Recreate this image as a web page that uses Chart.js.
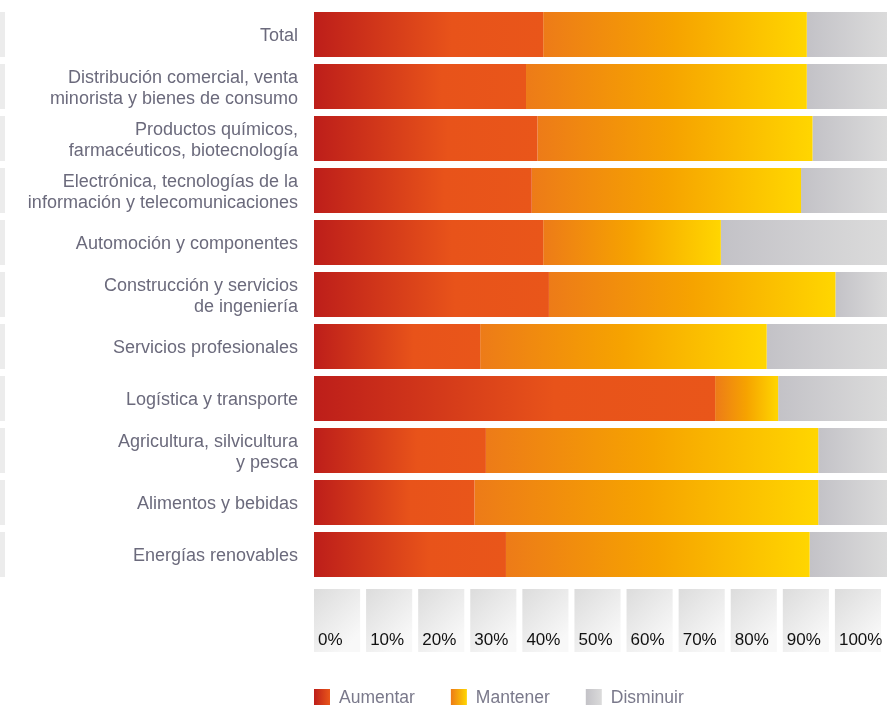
<!DOCTYPE html>
<html>
<head>
<meta charset="utf-8">
<script src="https://cdn.jsdelivr.net/npm/chart.js@4"></script>
<style>
  body { margin: 0; background: #fff; }
  #wrap { width: 890px; height: 708px; }
</style>
</head>
<body>
<div id="wrap"><canvas id="myChart" width="890" height="708"></canvas></div>
<script>
const categories = [
  'Total',
  ['Distribución comercial, venta', 'minorista y bienes de consumo'],
  ['Productos químicos,', 'farmacéuticos, biotecnología'],
  ['Electrónica, tecnologías de la', 'información y telecomunicaciones'],
  'Automoción y componentes',
  ['Construcción y servicios', 'de ingeniería'],
  'Servicios profesionales',
  'Logística y transporte',
  ['Agricultura, silvicultura', 'y pesca'],
  'Alimentos y bebidas',
  'Energías renovables'
];
const aumentar  = [40, 37, 39, 38, 40, 41, 29, 70, 30, 28, 33.5];
const mantener  = [46, 49, 48, 47, 31, 50, 50, 11, 58, 60, 53];
const disminuir = [14, 14, 13, 15, 29, 9, 21, 19, 12, 12, 13.5];
const tickLabels = ['0%', '10%', '20%', '30%', '40%', '50%', '60%', '70%', '80%', '90%', '100%'];

const seriesStops = [
  [[0, '#bd1e1a'], [0.6, '#e8531a'], [1, '#e9561a']],
  [[0, '#ed7b18'], [0.5, '#f6a300'], [1, '#ffd600']],
  [[0, '#c3c2c7'], [1, '#dbdbdb']]
];

function segGradient(c) {
  const chart = c.chart;
  const stops = seriesStops[c.datasetIndex];
  if (!chart.chartArea || c.type !== 'data') return stops[1][1];
  const xs = chart.scales.x;
  let start = 0;
  for (let d = 0; d < c.datasetIndex; d++) start += chart.data.datasets[d].data[c.dataIndex];
  const end = start + c.raw;
  const g = chart.ctx.createLinearGradient(xs.getPixelForValue(start), 0, xs.getPixelForValue(end), 0);
  stops.forEach(s => g.addColorStop(s[0], s[1]));
  return g;
}

// gray boxes behind the percent labels, little strips at the left edge, legend
const decoPlugin = {
  id: 'deco',
  beforeDraw(chart) {
    const ctx = chart.ctx;
    const x2 = chart.scales.x2;
    const area = chart.chartArea;
    const slot = x2.width / tickLabels.length;
    ctx.save();
    tickLabels.forEach((t, i) => {
      const px = x2.getPixelForTick(i);
      const left = px - slot / 2, top = area.bottom + 8.5, w = slot - 6, h = 63;
      const g = ctx.createLinearGradient(left, top, left + w, top + h * 0.7);
      g.addColorStop(0, '#dcdcdc');
      g.addColorStop(1, '#f8f8f8');
      ctx.fillStyle = g;
      ctx.fillRect(left, top, w, h);
    });
    const meta = chart.getDatasetMeta(0);
    ctx.fillStyle = '#ececec';
    meta.data.forEach(bar => {
      ctx.fillRect(0, bar.y - bar.height / 2, 5, bar.height);
    });
    ctx.restore();
  },
  afterDraw(chart) {
    const ctx = chart.ctx;
    let x = chart.chartArea.left;
    const y = 697;
    ctx.save();
    ctx.font = '17.5px "Liberation Sans", Arial, sans-serif';
    ctx.textBaseline = 'middle';
    chart.data.datasets.forEach((ds, i) => {
      const stops = seriesStops[i];
      const g = ctx.createLinearGradient(x, 0, x + 16, 0);
      g.addColorStop(0, stops[0][1]);
      g.addColorStop(1, stops[stops.length - 1][1]);
      ctx.fillStyle = g;
      ctx.fillRect(x, y - 8, 16, 16);
      ctx.fillStyle = '#7a798b';
      ctx.fillText(ds.label, x + 25, y + 1);
      x += 25 + ctx.measureText(ds.label).width + 36;
    });
    ctx.restore();
  }
};

new Chart(document.getElementById('myChart'), {
  type: 'bar',
  data: {
    labels: categories,
    datasets: [
      { label: 'Aumentar', data: aumentar, backgroundColor: segGradient },
      { label: 'Mantener', data: mantener, backgroundColor: segGradient },
      { label: 'Disminuir', data: disminuir, backgroundColor: segGradient }
    ]
  },
  options: {
    indexAxis: 'y',
    responsive: false,
    animation: false,
    layout: { padding: { top: 8.5, right: 3, bottom: 56, left: 0 } },
    datasets: {
      bar: {
        borderWidth: 0,
        categoryPercentage: 1,
        barPercentage: 45 / 52
      }
    },
    scales: {
      x: { display: false, stacked: true, min: 0, max: 100 },
      x2: {
        type: 'category',
        labels: tickLabels,
        position: 'bottom',
        offset: true,
        grid: { display: false, drawTicks: false },
        border: { display: false },
        ticks: {
          align: 'start',
          labelOffset: -22,
          padding: 50,
          color: '#111',
          autoSkip: false,
          maxRotation: 0,
          font: { family: '"Liberation Sans", Arial, sans-serif', size: 17 }
        },
        afterFit(s) { s.height = 71.5; s.paddingLeft = 0; s.paddingRight = 0; }
      },
      y: {
        stacked: true,
        grid: { display: false, drawTicks: false },
        border: { display: false },
        ticks: {
          padding: 16,
          labelOffset: 2,
          color: '#6b6a7c',
          autoSkip: false,
          font: { family: '"Liberation Sans", Arial, sans-serif', size: 18, lineHeight: 1.17 }
        },
        afterFit(s) { s.width = 314; s.paddingTop = 0; s.paddingBottom = 0; }
      }
    },
    plugins: {
      legend: { display: false },
      tooltip: { enabled: false }
    }
  },
  plugins: [decoPlugin]
});
</script>
</body>
</html>
